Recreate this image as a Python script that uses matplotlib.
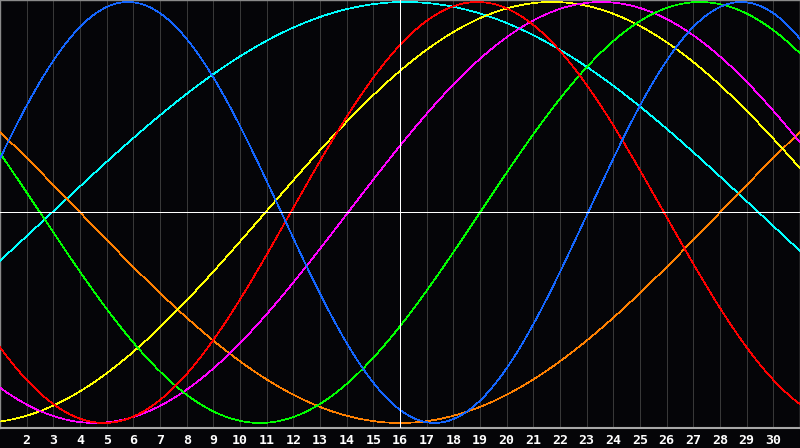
import numpy as np
import matplotlib
matplotlib.use("Agg")
import matplotlib.pyplot as plt

# biorhythm cycles: period (days) and day of month of the peak
cycle_names = ["Spiritual", "Awareness", "Aesthetic", "Intuitive", "Intellectual", "Emotional", "Physical"]
cycle_periods = [53, 48, 43, 38, 33, 28, 23]
cycle_peak_day = [16.2, 40.0, 21.7, 23.55, 27.25, 18.9, 5.8]
cycle_colors = ["#00ffff", "#ff8000", "#ffff00", "#ff00ff", "#00ff00", "#ff0000", "#1466ff"]

days = list(range(1, 32))
day_labels = [str(d) for d in range(2, 31)]
today = 16

bg = "#050508"

fig = plt.figure(figsize=(8, 4.48), dpi=100, facecolor=bg)
ax = fig.add_axes([0, 20 / 448, 1, 428 / 448])
ax.set_facecolor(bg)

# day grid
for d in days[1:-1]:
    ax.axvline(d, color="#383838", lw=0.72, antialiased=False, zorder=1)

t = np.linspace(days[0], days[-1], 1600)
for name, period, peak, color in zip(cycle_names, cycle_periods, cycle_peak_day, cycle_colors):
    ax.plot(t, np.cos(2 * np.pi * (t - peak) / period), color=color, lw=0.5,
            antialiased=False, zorder=3, label=name)

ax.axhline(0, color="white", lw=0.72, antialiased=False, zorder=4)
ax.axvline(today, color="white", lw=0.72, antialiased=False, zorder=4)

ax.set_xlim(days[0], days[-1])
ax.set_ylim(-1.024, 1.0095)

for s in ax.spines.values():
    s.set_color("#8a8a8a")
    s.set_linewidth(1.0)
ax.spines["bottom"].set_color("#a8a8a8")
ax.spines["bottom"].set_linewidth(1.5)

ax.set_xticks(range(2, 31))
ax.set_xticklabels(day_labels)
ax.tick_params(axis="x", length=0, pad=4, colors="white", labelsize=9.5)
for lab in ax.get_xticklabels():
    lab.set_fontweight("bold")
    lab.set_family("DejaVu Sans Mono")
ax.set_yticks([])

fig.savefig("out.png", dpi=100, facecolor=bg)
